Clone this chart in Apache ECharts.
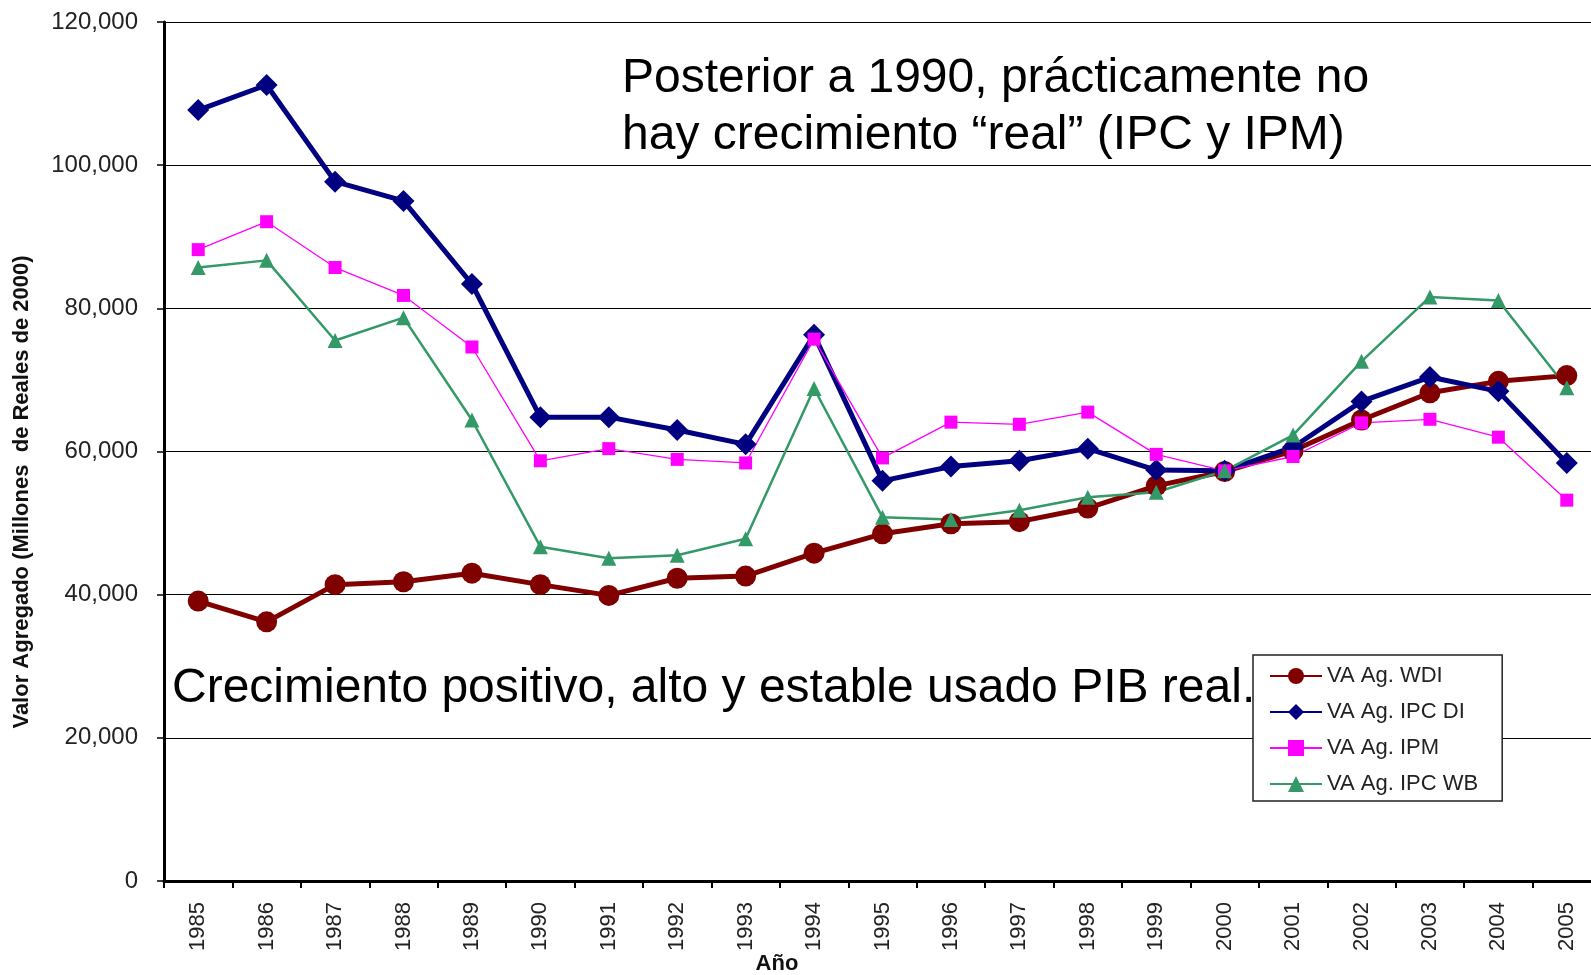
<!DOCTYPE html>
<html>
<head>
<meta charset="utf-8">
<title>Valor Agregado</title>
<script src="https://cdn.jsdelivr.net/npm/echarts@6/dist/echarts.min.js"></script>
<style>
    html, body { margin: 0; padding: 0; background: #fff; }
    #chart { width: 1591px; height: 975px; }
</style>
</head>
<body>
<div id="chart"></div>
<script>
    var years = ['1985','1986','1987','1988','1989','1990','1991','1992','1993','1994','1995',
                 '1996','1997','1998','1999','2000','2001','2002','2003','2004','2005'];
    var vaWdi   = [39100, 36200, 41400, 41800, 43000, 41400, 39900, 42300, 42600, 45800, 48500,
                   49900, 50200, 52100, 55200, 57200, 60100, 64400, 68200, 69800, 70600];
    var vaIpcDi = [107700, 111200, 97700, 95000, 83400, 64800, 64800, 63000, 61000, 76300, 55900,
                   57900, 58700, 60400, 57400, 57300, 60600, 67000, 70400, 68400, 58400];
    var vaIpm   = [88200, 92100, 85700, 81800, 74600, 58700, 60400, 58900, 58400, 75700, 59100,
                   64100, 63800, 65500, 59600, 57300, 59300, 64000, 64500, 62000, 53200];
    var vaIpcWb = [85700, 86700, 75500, 78700, 64400, 46700, 45100, 45500, 47800, 68800, 50800,
                   50500, 51800, 53600, 54300, 57300, 62300, 72600, 81600, 81100, 68900];
    var seriesNames = ['VA Ag. WDI', 'VA Ag. IPC DI', 'VA Ag. IPM', 'VA Ag. IPC WB'];

    var font = '"Liberation Sans", Arial, sans-serif';

    function thousands(v) {
        return String(v).replace(/\B(?=(\d{3})+(?!\d))/g, ',');
    }

    var myChart = echarts.init(document.getElementById('chart'));
    myChart.setOption({
        animation: false,
        backgroundColor: '#fff',
        textStyle: { fontFamily: font },
        grid: {
            left: 164,
            top: 22,
            width: 1437,
            height: 859,
            containLabel: false,
            outerBoundsMode: 'none'
        },
        legend: {
            orient: 'vertical',
            left: 1253,
            top: 655,
            data: seriesNames,
            backgroundColor: '#fff',
            borderColor: '#222',
            borderWidth: 1.5,
            borderRadius: 0,
            padding: [10, 24, 6, 16],
            itemWidth: 52,
            itemHeight: 20,
            itemGap: 14,
            textStyle: { fontSize: 22, color: '#222', fontFamily: font }
        },
        xAxis: {
            type: 'category',
            data: years,
            boundaryGap: true,
            axisLine: { lineStyle: { color: '#000', width: 3 } },
            axisTick: { show: true, interval: 0, length: 7, lineStyle: { color: '#000', width: 2 } },
            axisLabel: { interval: 0, rotate: 90, margin: 21, fontSize: 22, color: '#222' }
        },
        yAxis: {
            type: 'value',
            min: 0,
            max: 120000,
            interval: 20000,
            axisLine: { show: true, lineStyle: { color: '#000', width: 3 } },
            axisTick: { show: true, length: 7, lineStyle: { color: '#000', width: 1.5 } },
            axisLabel: { margin: 26, fontSize: 24, color: '#222', formatter: thousands },
            splitLine: { show: true, lineStyle: { color: '#000', width: 1 } }
        },
        series: [
            {
                name: seriesNames[0],
                type: 'line',
                data: vaWdi,
                symbol: 'circle',
                symbolSize: 21,
                itemStyle: { color: '#800000' },
                lineStyle: { color: '#800000', width: 5 }
            },
            {
                name: seriesNames[1],
                type: 'line',
                data: vaIpcDi,
                symbol: 'diamond',
                symbolSize: 22,
                itemStyle: { color: '#000080' },
                lineStyle: { color: '#000080', width: 5 }
            },
            {
                name: seriesNames[2],
                type: 'line',
                data: vaIpm,
                symbol: 'rect',
                symbolSize: 13,
                itemStyle: { color: '#ff00ff' },
                lineStyle: { color: '#ff00ff', width: 1.3 }
            },
            {
                name: seriesNames[3],
                type: 'line',
                data: vaIpcWb,
                symbol: 'triangle',
                symbolSize: 15,
                itemStyle: { color: '#339966' },
                lineStyle: { color: '#339966', width: 2.5 }
            }
        ],
        graphic: [
            {
                type: 'text', x: 22, y: 492, rotation: Math.PI / 2,
                style: {
                    text: 'Valor Agregado (Millones  de Reales de 2000)',
                    font: 'bold 22px ' + font, fill: '#111',
                    align: 'center', verticalAlign: 'middle',
                    textAlign: 'center', textVerticalAlign: 'middle'
                }
            },
            {
                type: 'text', x: 777, y: 964,
                style: {
                    text: 'Año', font: 'bold 22px ' + font, fill: '#111',
                    align: 'center', verticalAlign: 'middle',
                    textAlign: 'center', textVerticalAlign: 'middle'
                }
            },
            {
                type: 'text', x: 622, y: 79,
                style: {
                    text: 'Posterior a 1990, prácticamente no', font: '48px ' + font, fill: '#000',
                    align: 'left', verticalAlign: 'middle',
                    textAlign: 'left', textVerticalAlign: 'middle'
                }
            },
            {
                type: 'text', x: 622, y: 136,
                style: {
                    text: 'hay crecimiento “real” (IPC y IPM)', font: '48px ' + font, fill: '#000',
                    align: 'left', verticalAlign: 'middle',
                    textAlign: 'left', textVerticalAlign: 'middle'
                }
            },
            {
                type: 'text', x: 172, y: 689,
                style: {
                    text: 'Crecimiento positivo, alto y estable usado PIB real.', font: '48px ' + font, fill: '#000',
                    align: 'left', verticalAlign: 'middle',
                    textAlign: 'left', textVerticalAlign: 'middle'
                }
            }
        ]
    });
    window.addEventListener('resize', function () {
        myChart.resize();
    });
</script>
</body>
</html>
